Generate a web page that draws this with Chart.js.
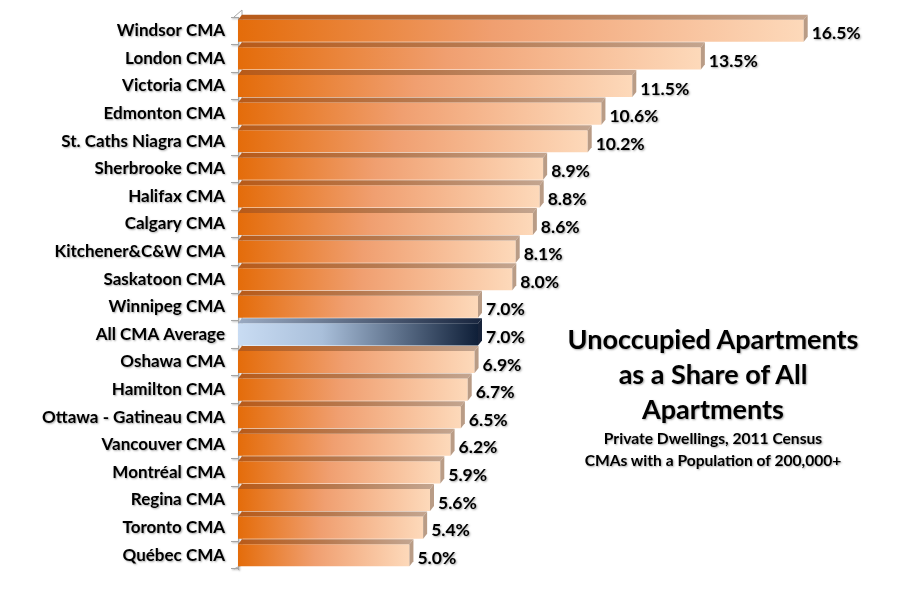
<!DOCTYPE html>
<html>
<head>
<meta charset="utf-8">
<script src="https://cdn.jsdelivr.net/npm/chart.js@4/dist/chart.umd.min.js"></script>
<style>
  body { margin: 0; background: #fff; }
  #wrap { position: relative; width: 901px; height: 613px; }
  #title {
    position: absolute; left: 543px; top: 321px; width: 340px;
    text-align: center; font-family: Lato, sans-serif; font-weight: bold; color: #000;
    text-shadow: 1px 1px 2px rgba(0,0,0,0.35);
  }
  #title .big { font-size: 27px; line-height: 35px; }
  #title .small { font-size: 15.6px; line-height: 22px; margin-top: 1px; }
</style>
</head>
<body>
<div id="wrap">
  <canvas id="myChart" width="901" height="613"></canvas>
  <div id="title">
    <div class="big">Unoccupied Apartments<br>as a Share of All<br>Apartments</div>
    <div class="small">Private Dwellings, 2011 Census<br>CMAs with a Population of 200,000+</div>
  </div>
</div>
<script>
// Données du graphique
const categories = [
  'Windsor CMA', 'London CMA', 'Victoria CMA', 'Edmonton CMA', 'St. Caths Niagra CMA',
  'Sherbrooke CMA', 'Halifax CMA', 'Calgary CMA', 'Kitchener&C&W CMA', 'Saskatoon CMA',
  'Winnipeg CMA', 'All CMA Average', 'Oshawa CMA', 'Hamilton CMA', 'Ottawa - Gatineau CMA',
  'Vancouver CMA', 'Montréal CMA', 'Regina CMA', 'Toronto CMA', 'Québec CMA'
];
const shares = [16.5, 13.5, 11.5, 10.6, 10.2, 8.9, 8.8, 8.6, 8.1, 8.0,
                7.0, 7.0, 6.9, 6.7, 6.5, 6.2, 5.9, 5.6, 5.4, 5.0];
const highlighted = ['All CMA Average'];

const DEPTH = 5;
const FONT = 'Lato, sans-serif';

function isAvg(i) { return highlighted.includes(categories[i]); }

// Couleurs des faces
function frontFill(c) {
  const chart = c.chart;
  if (!chart.chartArea) return '#E8731A';
  const xs = chart.scales.x;
  const x0 = xs.getPixelForValue(0), x1 = xs.getPixelForValue(shares[c.dataIndex]);
  const g = chart.ctx.createLinearGradient(x0, 0, x1, 0);
  if (isAvg(c.dataIndex)) {
    g.addColorStop(0, '#C9DCF3');
    g.addColorStop(0.35, '#A9BFDA');
    g.addColorStop(1, '#0F1F38');
  } else {
    g.addColorStop(0, '#E46C0A');
    g.addColorStop(0.45, '#F09F70');
    g.addColorStop(1, '#FDD9BA');
  }
  return g;
}

// Faces 3D et étiquettes de valeurs
const bars3d = {
  id: 'bars3d',
  beforeDraw(chart) {
    const ctx = chart.ctx;
    ctx.shadowColor = 'rgba(0,0,0,0.35)';
    ctx.shadowOffsetX = 1;
    ctx.shadowOffsetY = 1;
    ctx.shadowBlur = 2;
  },
  beforeDatasetsDraw(chart) {
    const ctx = chart.ctx;
    ctx.shadowColor = 'rgba(0,0,0,0)';
    ctx.shadowBlur = 0;
    ctx.shadowOffsetX = 0;
    ctx.shadowOffsetY = 0;
    const a = chart.chartArea;
    ctx.save();
    ctx.strokeStyle = '#A6A6A6';
    ctx.lineWidth = 1;
    ctx.beginPath();
    ctx.moveTo(a.left - 4, a.top);
    ctx.lineTo(a.left + 4, a.top - 7);
    ctx.lineTo(a.left + 4, a.bottom - 4);
    ctx.moveTo(a.left - 4, a.bottom);
    ctx.lineTo(a.left + 4, a.bottom - 4);
    ctx.stroke();
    ctx.restore();
  },
  afterDatasetsDraw(chart) {
    const ctx = chart.ctx;
    const meta = chart.getDatasetMeta(0);
    meta.data.forEach((bar, i) => {
      const p = bar.getProps(['x', 'y', 'base', 'height'], true);
      const top = p.y - p.height / 2, bottom = p.y + p.height / 2;
      const avg = isAvg(i);
      ctx.save();
      // face supérieure
      const gt = ctx.createLinearGradient(p.base, 0, p.x, 0);
      if (avg) {
        gt.addColorStop(0, '#9AAAC2');
        gt.addColorStop(1, '#1A2740');
      } else {
        gt.addColorStop(0, '#B85A18');
        gt.addColorStop(0.5, '#B7794F');
        gt.addColorStop(1, '#C3A48E');
      }
      ctx.fillStyle = gt;
      ctx.beginPath();
      ctx.moveTo(p.base, top);
      ctx.lineTo(p.x, top);
      ctx.lineTo(p.x + DEPTH - 1, top - DEPTH);
      ctx.lineTo(p.base + DEPTH - 1, top - DEPTH);
      ctx.closePath();
      ctx.fill();
      // face latérale
      ctx.fillStyle = avg ? '#17233A' : '#B99C86';
      ctx.beginPath();
      ctx.moveTo(p.x, top);
      ctx.lineTo(p.x + DEPTH - 1, top - DEPTH);
      ctx.lineTo(p.x + DEPTH - 1, bottom - DEPTH);
      ctx.lineTo(p.x, bottom);
      ctx.closePath();
      ctx.fill();
      // étiquette
      ctx.shadowColor = 'rgba(0,0,0,0.35)';
      ctx.shadowOffsetX = 1;
      ctx.shadowOffsetY = 1;
      ctx.shadowBlur = 2;
      ctx.fillStyle = '#000';
      ctx.font = 'bold 17.5px ' + FONT;
      ctx.textAlign = 'left';
      ctx.textBaseline = 'middle';
      ctx.fillText(shares[i].toFixed(1) + '%', p.x + DEPTH + 3, p.y + 3);
      ctx.restore();
    });
  }
};

const ctx = document.getElementById('myChart').getContext('2d');
const myChart = new Chart(ctx, {
  type: 'bar',
  data: {
    labels: categories,
    datasets: [{
      data: shares,
      backgroundColor: frontFill,
      borderWidth: 0,
      barPercentage: 0.8,
      categoryPercentage: 1.0,
    }],
  },
  options: {
    indexAxis: 'y',
    responsive: false,
    animation: false,
    events: [],
    layout: { padding: { left: 0, right: 39, top: 17, bottom: 44 } },
    plugins: { legend: { display: false }, tooltip: { enabled: false } },
    scales: {
      x: { display: false, min: 0, max: 18.2 },
      y: {
        afterFit(scale) { scale.width = 238; },
        grid: { offset: true, drawOnChartArea: false, drawTicks: true, tickLength: 7, color: '#A6A6A6' },
        border: { display: true, color: '#A6A6A6' },
        ticks: { color: '#000', padding: 6, font: { family: FONT, weight: 'bold', size: 17 } },
      },
    },
  },
  plugins: [bars3d],
});
</script>
</body>
</html>
